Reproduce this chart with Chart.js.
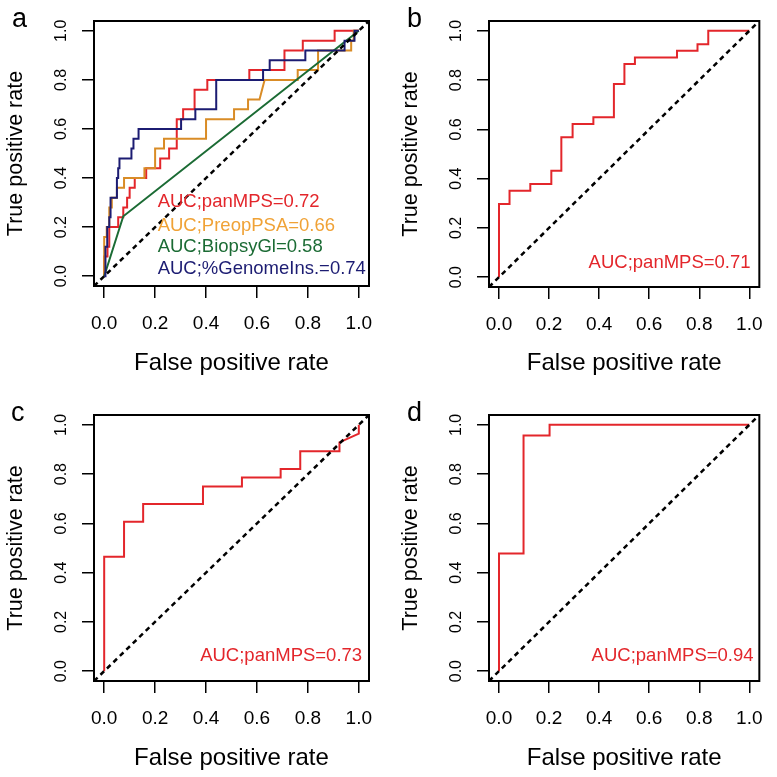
<!DOCTYPE html>
<html>
<head>
<meta charset="utf-8">
<script src="https://cdn.jsdelivr.net/npm/chart.js@4.4.1/dist/chart.umd.min.js"></script>
<style>
  html, body { margin: 0; padding: 0; background: #fff; }
  #wrap { position: relative; width: 777px; height: 777px; overflow: hidden; }
  canvas { position: absolute; }
</style>
</head>
<body>
<div id="wrap">
  <canvas id="pa" width="388" height="388" style="left:0;top:0"></canvas>
  <canvas id="pb" width="389" height="388" style="left:388px;top:0"></canvas>
  <canvas id="pc" width="388" height="389" style="left:0;top:388px"></canvas>
  <canvas id="pd" width="389" height="389" style="left:388px;top:388px"></canvas>
</div>
<script>
var tickValues = [0, 0.2, 0.4, 0.6, 0.8, 1.0];
var diagonal = [[-0.04, -0.04], [1.04, 1.04]];

// panel a: four markers, [false positive rate, true positive rate]
var aPanMPS = [[0,0],[0,0.08],[0.013,0.08],[0.013,0.12],[0.02,0.12],[0.02,0.2],[0.055,0.2],[0.055,0.24],
  [0.075,0.24],[0.075,0.28],[0.09,0.28],[0.09,0.32],[0.1,0.32],[0.1,0.36],[0.12,0.36],[0.12,0.4],
  [0.165,0.4],[0.165,0.44],[0.22,0.44],[0.22,0.48],[0.255,0.48],[0.255,0.52],[0.285,0.52],[0.285,0.64],
  [0.31,0.64],[0.31,0.68],[0.355,0.68],[0.355,0.76],[0.405,0.76],[0.405,0.8],[0.57,0.8],[0.57,0.84],
  [0.708,0.84],[0.708,0.92],[0.78,0.92],[0.78,0.96],[0.905,0.96],[0.905,1],[1,1]];
var aPreopPSA = [[0,0],[0,0.16],[0.01,0.16],[0.01,0.2],[0.02,0.2],[0.02,0.28],[0.03,0.28],[0.03,0.32],
  [0.05,0.32],[0.05,0.36],[0.078,0.36],[0.078,0.4],[0.158,0.4],[0.158,0.44],[0.2,0.44],[0.2,0.52],
  [0.235,0.52],[0.235,0.56],[0.4,0.56],[0.4,0.64],[0.51,0.64],[0.51,0.68],[0.565,0.68],[0.565,0.72],
  [0.61,0.72],[0.63,0.8],[0.76,0.8],[0.76,0.84],[0.84,0.84],[0.84,0.92],[0.97,0.92],[0.97,0.96],
  [0.98,0.96],[0.98,1],[1,1]];
var aBiopsyGl = [[0,0],[0.075,0.244],[1,1]];
var aGenomeIns = [[0,0],[0.005,0],[0.005,0.12],[0.012,0.12],[0.012,0.2],[0.02,0.2],[0.02,0.24],[0.025,0.24],
  [0.025,0.32],[0.05,0.32],[0.05,0.4],[0.055,0.4],[0.055,0.44],[0.06,0.44],[0.06,0.48],[0.107,0.48],
  [0.107,0.52],[0.115,0.52],[0.115,0.56],[0.135,0.56],[0.135,0.6],[0.302,0.6],[0.302,0.64],[0.358,0.64],
  [0.358,0.68],[0.44,0.68],[0.44,0.8],[0.624,0.8],[0.624,0.84],[0.65,0.84],[0.65,0.88],[0.79,0.88],
  [0.79,0.92],[0.944,0.92],[0.944,0.96],[0.983,0.96],[0.983,1],[1,1]];
var aLabels = ['AUC;panMPS=0.72', 'AUC;PreopPSA=0.66', 'AUC;BiopsyGl=0.58', 'AUC;%GenomeIns.=0.74'];

// panels b, c, d: panMPS only
var bPanMPS = [[0,0],[0,0.297],[0.042,0.297],[0.042,0.351],[0.125,0.351],[0.125,0.378],[0.209,0.378],
  [0.209,0.432],[0.249,0.432],[0.249,0.568],[0.294,0.568],[0.294,0.622],[0.377,0.622],[0.377,0.649],
  [0.459,0.649],[0.459,0.784],[0.501,0.784],[0.501,0.865],[0.543,0.865],[0.543,0.892],[0.711,0.892],
  [0.711,0.919],[0.793,0.919],[0.793,0.946],[0.836,0.946],[0.836,1],[1,1]];
var cPanMPS = [[0,0],[0,0.464],[0.078,0.464],[0.078,0.607],[0.153,0.607],[0.153,0.679],[0.388,0.679],
  [0.388,0.75],[0.541,0.75],[0.541,0.786],[0.693,0.786],[0.693,0.821],[0.77,0.821],[0.77,0.893],
  [0.924,0.893],[0.924,0.929],[1,0.964],[1,1]];
var dPanMPS = [[0,0],[0,0.478],[0.098,0.478],[0.098,0.957],[0.202,0.957],[0.202,1],[1,1]];
var bLabel = 'AUC;panMPS=0.71';
var cLabel = 'AUC;panMPS=0.73';
var dLabel = 'AUC;panMPS=0.94';

var FONT = '"Liberation Sans", Arial, Helvetica, sans-serif';
var RED = '#e3262b', ORANGE = '#d98c26', ORANGE_TXT = '#f0a236', GREEN = '#1b6b34', NAVY = '#1c1c72';

function pts(arr) {
  return arr.map(function (p) { return { x: p[0], y: p[1] }; });
}

function curve(arr, color, order) {
  return { data: pts(arr), borderColor: color, borderWidth: 2, showLine: true, pointRadius: 0, order: order };
}

function diag() {
  return { data: pts(diagonal), borderColor: '#000', borderWidth: 2.5, borderDash: [5, 4], showLine: true, pointRadius: 0, order: 0 };
}

// frame around the plot region, like R's box()
var boxPlugin = {
  id: 'box',
  afterDraw: function (chart) {
    var ctx = chart.ctx, a = chart.chartArea;
    ctx.save();
    ctx.strokeStyle = '#000';
    ctx.lineWidth = 2;
    ctx.strokeRect(a.left, a.top, a.right - a.left, a.bottom - a.top);
    ctx.restore();
  }
};

// AUC texts in data coordinates + panel letter
var textPlugin = {
  id: 'texts',
  afterDraw: function (chart) {
    var cfg = chart.options.plugins.texts;
    var ctx = chart.ctx, sx = chart.scales.x, sy = chart.scales.y;
    ctx.save();
    ctx.font = '18.5px ' + FONT;
    ctx.textBaseline = 'middle';
    cfg.items.forEach(function (t) {
      ctx.fillStyle = t.color;
      ctx.textAlign = t.align;
      ctx.fillText(t.text, sx.getPixelForValue(t.x), sy.getPixelForValue(t.y));
    });
    ctx.font = '27px ' + FONT;
    ctx.fillStyle = '#000';
    ctx.textAlign = 'left';
    ctx.textBaseline = 'alphabetic';
    ctx.fillText(cfg.letter, cfg.lx, cfg.ly);
    ctx.restore();
  }
};

function makePanel(id, datasets, p) {
  new Chart(document.getElementById(id), {
    type: 'scatter',
    data: { datasets: datasets },
    options: {
      responsive: false,
      animation: false,
      devicePixelRatio: 1,
      layout: { padding: { top: p.padTop, right: p.padRight, left: 0, bottom: 0 } },
      plugins: {
        legend: { display: false },
        tooltip: { enabled: false },
        texts: { items: p.items, letter: p.letter, lx: p.lx, ly: p.ly }
      },
      scales: {
        x: {
          type: 'linear', min: -0.04, max: 1.04,
          afterBuildTicks: function (s) { s.ticks = tickValues.map(function (v) { return { value: v }; }); },
          afterFit: function (s) { s.height = p.xHeight; },
          grid: { drawOnChartArea: false, drawTicks: true, tickLength: 12, color: '#000', lineWidth: 1.5 },
          border: { display: false },
          ticks: { color: '#000', padding: 14, maxRotation: 0, autoSkip: false,
            font: { family: FONT, size: 19 },
            callback: function (v) { return Number(v).toFixed(1); } },
          title: { display: true, text: 'False positive rate', color: '#000',
            font: { family: FONT, size: 24, lineHeight: 1 }, padding: { top: 0, bottom: p.xTitlePad } }
        },
        y: {
          type: 'linear', min: -0.04, max: 1.04,
          afterBuildTicks: function (s) { s.ticks = tickValues.map(function (v) { return { value: v }; }); },
          afterFit: function (s) { s.width = p.yWidth; },
          grid: { drawOnChartArea: false, drawTicks: true, tickLength: 12, color: '#000', lineWidth: 1.5 },
          border: { display: false },
          ticks: { color: '#000', padding: 9.5, minRotation: 90, maxRotation: 90, crossAlign: 'center', autoSkip: false,
            font: { family: FONT, size: 16 },
            callback: function (v) { return Number(v).toFixed(1); } },
          title: { display: true, text: 'True positive rate', color: '#000',
            font: { family: FONT, size: 21.5, lineHeight: 1 }, padding: { top: p.yTitlePad, bottom: 0 } }
        }
      }
    },
    plugins: [boxPlugin, textPlugin]
  });
}

makePanel('pa', [
  diag(),
  curve(aPanMPS, RED, 5),
  curve(aPreopPSA, ORANGE, 4),
  curve(aBiopsyGl, GREEN, 3),
  curve(aGenomeIns, NAVY, 2)
], {
  padTop: 21, padRight: 19, xHeight: 102, yWidth: 94, xTitlePad: 13, yTitlePad: 5,
  letter: 'a', lx: 12, ly: 27,
  items: [
    { text: aLabels[0], color: RED, x: 0.21, y: 0.302, align: 'left' },
    { text: aLabels[1], color: ORANGE_TXT, x: 0.21, y: 0.204, align: 'left' },
    { text: aLabels[2], color: GREEN, x: 0.21, y: 0.118, align: 'left' },
    { text: aLabels[3], color: NAVY, x: 0.21, y: 0.029, align: 'left' }
  ]
});

makePanel('pb', [diag(), curve(bPanMPS, RED, 5)], {
  padTop: 21, padRight: 13, xHeight: 101, yWidth: 101, xTitlePad: 13, yTitlePad: 12,
  letter: 'b', lx: 19, ly: 27,
  items: [{ text: bLabel, color: RED, x: 1.005, y: 0.058, align: 'right' }]
});

makePanel('pc', [diag(), curve(cPanMPS, RED, 5)], {
  padTop: 27, padRight: 19, xHeight: 96, yWidth: 94, xTitlePad: 7, yTitlePad: 5,
  letter: 'c', lx: 11, ly: 33,
  items: [{ text: cLabel, color: RED, x: 1.013, y: 0.06, align: 'right' }]
});

makePanel('pd', [diag(), curve(dPanMPS, RED, 5)], {
  padTop: 27, padRight: 13, xHeight: 96, yWidth: 101, xTitlePad: 7, yTitlePad: 12,
  letter: 'd', lx: 19, ly: 33,
  items: [{ text: dLabel, color: RED, x: 1.017, y: 0.06, align: 'right' }]
});
</script>
</body>
</html>
